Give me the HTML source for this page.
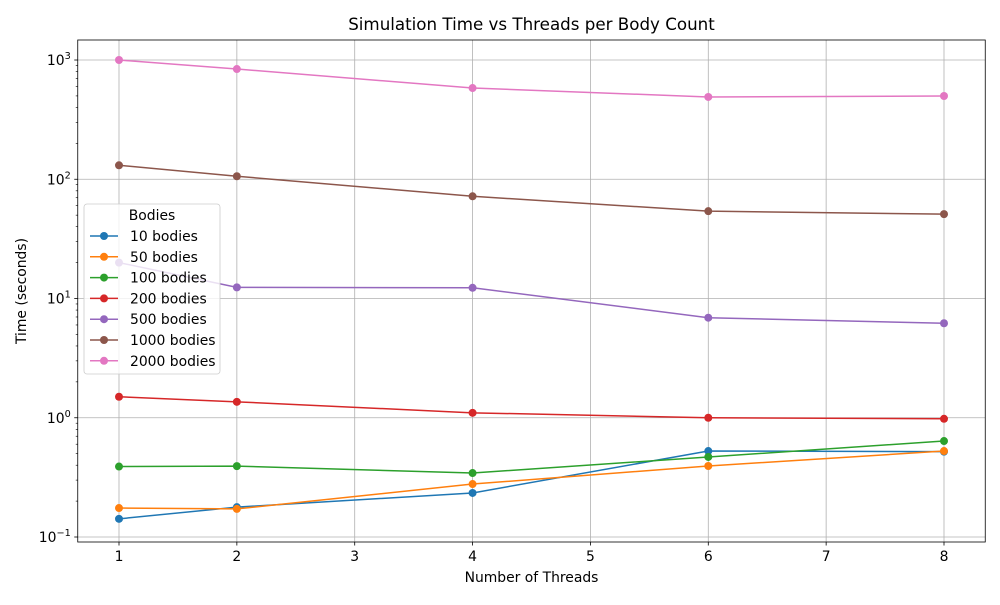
<!DOCTYPE html>
<html><head><meta charset="utf-8"><style>
body{margin:0;background:#fff;}
svg{font-family:"DejaVu Sans","Liberation Sans",sans-serif;}
</style></head><body>
<svg id="chart" width="1000" height="600" xmlns="http://www.w3.org/2000/svg">
<rect width="1000" height="600" fill="#fff"/>
<g id="grid"></g><g id="axes"></g><g id="series"></g><g id="legend"></g>
</svg>
<script>
const threads=[1,2,4,6,8];
const seriesNames=["10 bodies","50 bodies","100 bodies","200 bodies","500 bodies","1000 bodies","2000 bodies"];
const s10=[0.142,0.178,0.234,0.526,0.52];
const s50=[0.175,0.172,0.278,0.394,0.526];
const s100=[0.39,0.393,0.344,0.469,0.638];
const s200=[1.50,1.36,1.10,1.0,0.98];
const s500=[20,12.4,12.3,6.9,6.2];
const s1000=[131,106,72,54,51];
const s2000=[1000,840,582,490,499];
const allSeries=[s10,s50,s100,s200,s500,s1000,s2000];
const colors=["#1f77b4","#ff7f0e","#2ca02c","#d62728","#9467bd","#8c564b","#e377c2"];
const xTicks=[1,2,3,4,5,6,7,8];
const yTickExp=[-1,0,1,2,3];
const NS="http://www.w3.org/2000/svg";
const L=77.75,R=985.25,T=40,B=542;
const xmin=0.65,xmax=8.35;
const ylogMin=-1.0419,ylogMax=3.1678;
function X(v){return L+(v-xmin)/(xmax-xmin)*(R-L);}
function Y(v){return B-(Math.log10(v)-ylogMin)/(ylogMax-ylogMin)*(B-T);}
function el(tag,attrs,parent,text){const e=document.createElementNS(NS,tag);for(const k in attrs)e.setAttribute(k,attrs[k]);if(text!==undefined)e.textContent=text;parent.appendChild(e);return e;}
const grid=document.getElementById('grid'),axes=document.getElementById('axes'),ser=document.getElementById('series'),leg=document.getElementById('legend');
xTicks.forEach(t=>{const x=X(t);
 const g=el('line',{x1:x,x2:x,y1:T,y2:B,stroke:'#b0b0b0','stroke-width':0.8},grid);
 
 el('line',{x1:x,x2:x,y1:B,y2:B+3.5,stroke:'#000','stroke-width':0.8},axes);
 const tl=el('text',{x:x,y:B+19,'font-size':13.9,'text-anchor':'middle'},axes,String(t));
 
});
yTickExp.forEach(e=>{const y=Y(Math.pow(10,e));
 const g=el('line',{x1:L,x2:R,y1:y,y2:y,stroke:'#b0b0b0','stroke-width':0.8},grid);
 
 el('line',{x1:L-3.5,x2:L,y1:y,y2:y,stroke:'#000','stroke-width':0.8},axes);
 const tl=el('text',{x:L-7,y:y+5,'font-size':13.9,'text-anchor':'end'},axes);
 
 el('tspan',{},tl,'10');el('tspan',{dy:-6,'font-size':9.7},tl,String(e).replace('-','−'));
});
for(let e=-2;e<=3;e++)for(let m=2;m<=9;m++){const v=m*Math.pow(10,e);const y=Y(v);if(y<T||y>B)continue;
 el('line',{x1:L-2,x2:L,y1:y,y2:y,stroke:'#000','stroke-width':0.6},axes);}
const frame=el('rect',{x:L,y:T,width:R-L,height:B-T,fill:'none',stroke:'#000','stroke-width':0.8},axes);

const title=el('text',{x:(L+R)/2,y:T-10,'font-size':16.7,'text-anchor':'middle'},axes,'Simulation Time vs Threads per Body Count');

const xt=el('text',{x:(L+R)/2,y:582,'font-size':13.9,'text-anchor':'middle'},axes,'Number of Threads');

const yt=el('text',{x:26,y:(T+B)/2,'font-size':13.9,'text-anchor':'middle',transform:`rotate(-90 26 ${(T+B)/2})`},axes,'Time (seconds)');

allSeries.forEach((s,i)=>{
 const g=el('g',{},ser);
 
 const pts=s.map((v,j)=>X(threads[j])+','+Y(v)).join(' ');
 el('polyline',{points:pts,fill:'none',stroke:colors[i],'stroke-width':1.5},g);
 s.forEach((v,j)=>{const c=el('circle',{cx:X(threads[j]),cy:Y(v),r:4,fill:colors[i]},g);
  });
});
const lb=el('rect',{x:84,y:204,width:136,height:170,rx:3,fill:'#fff','fill-opacity':0.8,stroke:'#ccc','stroke-width':0.8},leg);

const lt=el('text',{x:152,y:220,'font-size':13.9,'text-anchor':'middle'},leg,'Bodies');

seriesNames.forEach((n,i)=>{const y=236+i*20.8;
 const g=el('g',{},leg);
 
 el('line',{x1:90,x2:118,y1:y,y2:y,stroke:colors[i],'stroke-width':1.5},g);
 el('circle',{cx:104,cy:y,r:4,fill:colors[i]},g);
 el('text',{x:130,y:y+5,'font-size':13.9},g,n);
});
</script>
</body></html>
